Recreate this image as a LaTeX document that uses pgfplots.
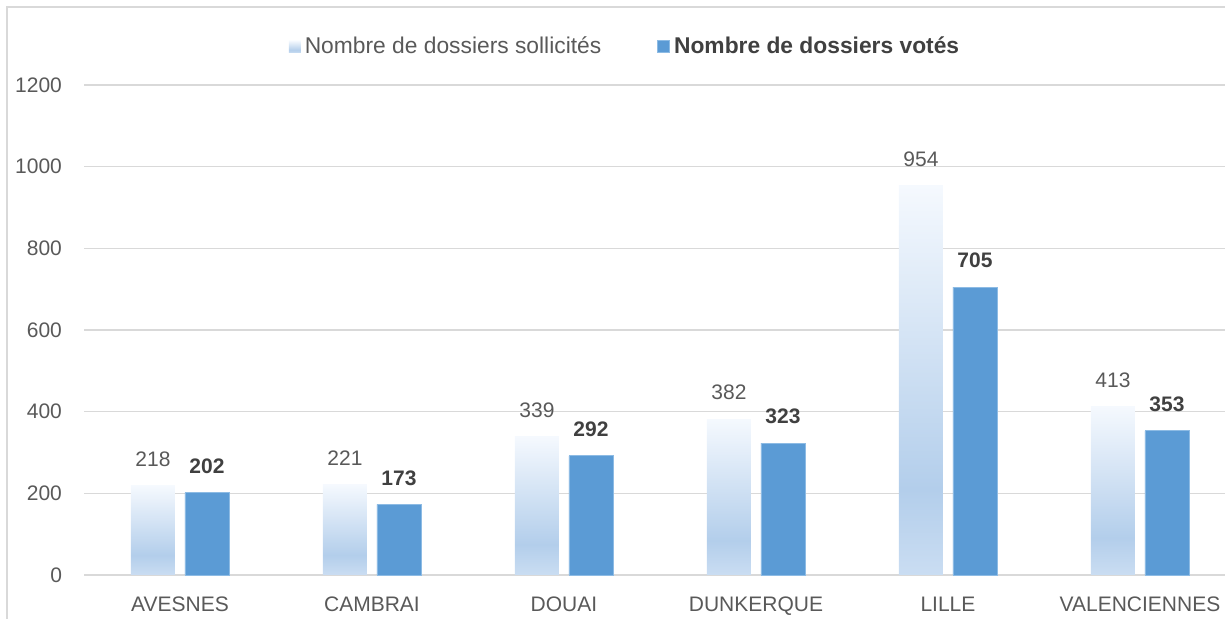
\documentclass[border=0pt]{standalone}
\usepackage{pgfplots}
\pgfplotsset{compat=1.18}
\usepackage{fontspec}
\setmainfont{Liberation Sans}
\definecolor{txt}{HTML}{595959}
\definecolor{txtb}{HTML}{404040}
\definecolor{gridc}{HTML}{D9D9D9}
\definecolor{dark}{HTML}{5B9BD5}
\definecolor{darkedge}{HTML}{8DBBE4}
\definecolor{lbA}{HTML}{CADDF2}
\definecolor{lbB}{HTML}{B3CEEB}
\definecolor{lbC}{HTML}{F5F9FE}
\pgfdeclareverticalshading{lightbar}{100bp}{color(0bp)=(lbA); color(25bp)=(lbA); color(36bp)=(lbB); color(75bp)=(lbC); color(100bp)=(lbC)}
\begin{document}
\begin{tikzpicture}
\path[use as bounding box] (0,0) rectangle (612.5pt,309.5pt);
\draw[gridc, line width=0.75pt] (3.5pt,-2pt) -- (3.5pt,306pt) -- (614pt,306pt);
\begin{axis}[
  at={(42pt,22pt)}, anchor=south west,
  scale only axis, width=570.5pt, height=245pt,
  xmin=-0.5, xmax=5.443, ymin=0, ymax=1200,
  axis line style={draw=none},
  ymajorgrids, grid style={gridc, line width=0.75pt},
  ytick={0,200,...,1200},
  xtick={0,...,5},
  xticklabels={AVESNES,CAMBRAI,DOUAI,DUNKERQUE,LILLE,VALENCIENNES},
  major tick length=0pt,
  tick label style={font=\fontsize{10.5}{12}\selectfont, text=txt},
  yticklabel style={xshift=-7.5pt},
  xticklabel style={yshift=-7.5pt},
  /pgf/number format/assume math mode=true,
  /pgf/number format/1000 sep={},
  ybar, bar width=22pt,
  nodes near coords,
  clip=false,
  legend style={at={(0.475,1.078)}, anchor=center, draw=none, fill=none,
    legend columns=2, font=\fontsize{11.4}{13}\selectfont, text=txt,
    /tikz/every even column/.append style={column sep=26pt}},
  legend image code/.code={\path[#1] (0pt,-3pt) rectangle (6pt,3pt);},
  lightstyle/.style={shade, shading=lightbar, draw=none, bar shift=-13.5pt,
    every node near coord/.append style={font=\fontsize{10.5}{12}\selectfont, text=txt, yshift=6pt}},
]
\addplot[lightstyle] coordinates {(0,218)};
\addplot[fill=dark, draw=darkedge, line width=0.4pt, bar shift=13.5pt,
  every node near coord/.append style={font=\bfseries\fontsize{10.5}{12}\selectfont, text=txtb, yshift=6pt}]
  coordinates {(0,202) (1,173) (2,292) (3,323) (4,705) (5,353)};
\addplot[lightstyle, forget plot] coordinates {(1,221)};
\addplot[lightstyle, forget plot] coordinates {(2,339)};
\addplot[lightstyle, forget plot] coordinates {(3,382)};
\addplot[lightstyle, forget plot] coordinates {(4,954)};
\addplot[lightstyle, forget plot] coordinates {(5,413)};
\legend{Nombre de dossiers sollicités, \textcolor{txtb}{\textbf{Nombre de dossiers votés}}}
\end{axis}
\end{tikzpicture}
\end{document}
